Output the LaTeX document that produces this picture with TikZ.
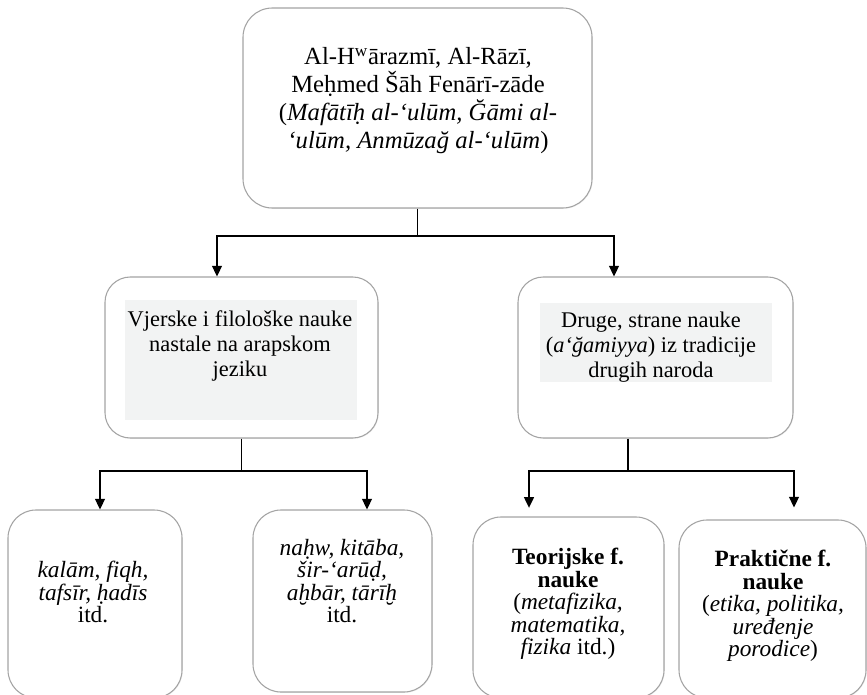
\documentclass[tikz,border=0pt]{standalone}
\usepackage{fontspec}
\setmainfont{Liberation Serif}
\usetikzlibrary{arrows.meta, positioning, calc, shadows}
\definecolor{panel}{HTML}{F2F3F3}
\definecolor{edge}{HTML}{A4A4A4}

\begin{document}
\begin{tikzpicture}[x=0.75pt, y=-0.75pt,
    card/.style={draw=edge, line width=0.8pt, fill=white, inner sep=0pt, rounded corners=19pt,
      drop shadow={opacity=0.12, shadow xshift=0.6pt, shadow yshift=-0.6pt}},
    arr/.style={-{Triangle[length=8pt, width=7.5pt]}, line width=0.9pt},
    wire/.style={line width=0.9pt},
    txt/.style={align=center, inner sep=0pt},
    toptext/.style={txt, font=\fontsize{18.5pt}{21pt}\selectfont},
    midtext/.style={txt, font=\fontsize{16.8pt}{18.75pt}\selectfont},
    leaftext/.style={txt, font=\fontsize{17.5pt}{16.8pt}\selectfont}]
  \useasboundingbox (0,0) rectangle (867,695);

  % boxes
  \node[card, rounded corners=22pt, minimum width=261.75pt, minimum height=150pt] (top) at (417.5,108) {};
  \node[card, minimum width=204.75pt, minimum height=120.75pt] (midL) at (241.5,357.5) {};
  \node[card, minimum width=206.25pt, minimum height=120.75pt] (midR) at (655.5,357.5) {};
  \node[card, rounded corners=21pt, minimum width=130.5pt, minimum height=141pt] (leafA) at (95,604) {};
  \node[card, rounded corners=21pt, minimum width=134.25pt, minimum height=136.5pt] (leafB) at (342.5,601) {};
  \node[card, rounded corners=21pt, minimum width=143.25pt, minimum height=135.75pt] (leafC) at (568.5,607.5) {};
  \node[card, rounded corners=21pt, minimum width=140.25pt, minimum height=133.5pt] (leafD) at (772.5,609) {};

  \fill[panel] (125,300) rectangle (357,420);
  \fill[panel] (540,303) rectangle (772,382);

  % texts
  \node[toptext] (topT) at (418,101) {Al-H\textsuperscript{w}ārazmī, Al-Rāzī,\\ Meḥmed Šāh Fenārī-zāde\\ (\textit{Mafātīḥ al-‘ulūm, Ğāmi al-}\\ \textit{‘ulūm, Anmūzağ al-‘ulūm})};
  \node[midtext] (midLT) at (240,346) {Vjerske i filološke nauke\\ nastale na arapskom\\ jeziku};
  \node[midtext] (midRT) at (651,347) {Druge, strane nauke\\ (\textit{a‘ğamiyya}) iz tradicije\\ drugih naroda};
  \node[leaftext] (leafAT) at (93,592) {\textit{kalām, fiqh,}\\ \textit{tafsīr, ḥadīs}\\ itd.};
  \node[leaftext] (leafBT) at (342,581) {\textit{naḥw, kitāba,}\\ \textit{šir-‘arūḍ,}\\ \textit{aḫbār, tārīḫ}\\ itd.};
  \node[leaftext] (leafCT) at (568,604) {\textbf{Teorijske f.}\\ \textbf{nauke}\\ (\textit{metafizika,}\\ \textit{matematika,}\\ \textit{fizika} itd.)};
  \node[leaftext] (leafDT) at (773,606) {\textbf{Praktične f.}\\ \textbf{nauke}\\ (\textit{etika, politika,}\\ \textit{uređenje}\\ \textit{porodice})};

  % connectors
  \coordinate (busA) at (0,236);
  \coordinate (busB) at (0,471);
  \coordinate (dropL) at (217,0);
  \coordinate (dropR) at (614,0);
  \coordinate (stemR) at (628,0);
  \coordinate (d1) at (100,0);
  \coordinate (d2) at (367,0);
  \coordinate (d3) at (529,0);
  \coordinate (d4) at (794,0);

  \draw[wire] (top.south) -- (top.south |- busA);
  \draw[arr] (top.south |- busA) -| (dropL |- midL.north);
  \draw[arr] (top.south |- busA) -| (dropR |- midR.north);

  \draw[wire] (midL.south) -- (midL.south |- busB);
  \draw[arr] (midL.south |- busB) -| (d1 |- leafA.north);
  \draw[arr] (midL.south |- busB) -| (d2 |- leafB.north);

  \draw[wire] (stemR |- midR.south) -- (stemR |- busB);
  \draw[arr, shorten >=6.5pt] (stemR |- busB) -| (d3 |- leafC.north);
  \draw[arr, shorten >=9pt] (stemR |- busB) -| (d4 |- leafD.north);
\end{tikzpicture}
\end{document}
